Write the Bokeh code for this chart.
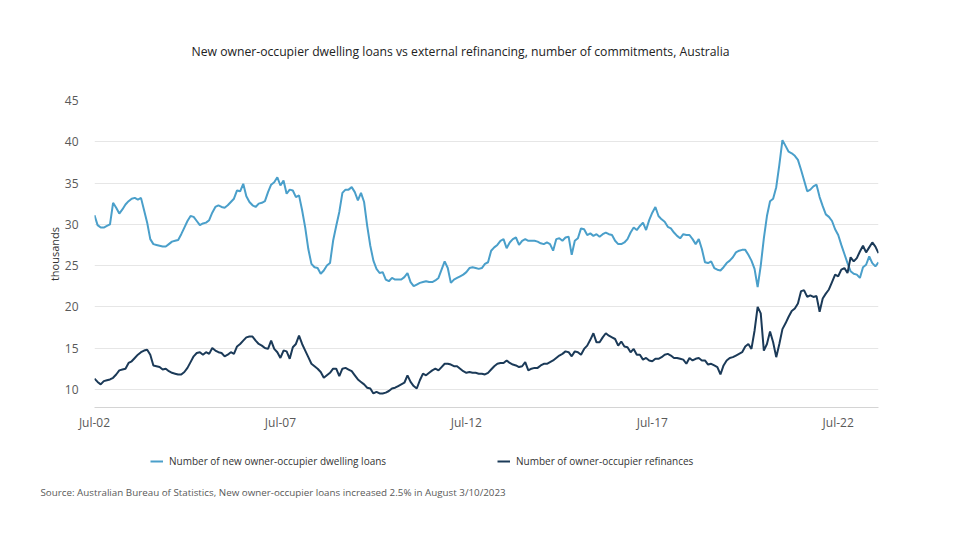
from bokeh.plotting import figure
from bokeh.layouts import column
from bokeh.models import Range1d, FixedTicker, Legend, LegendItem, ColumnDataSource, Label
from bokeh.embed import file_html
from bokeh.resources import INLINE

# Monthly data, Jul-2002 .. Aug-2023 (thousands)
new_loans = [
    31.1, 29.9, 29.6, 29.6, 29.8, 30.0, 32.6, 32.0, 31.3, 31.8, 32.4, 32.8,
    33.1, 33.2, 33.0, 33.2, 31.7, 30.2, 28.2, 27.6, 27.5, 27.4, 27.3, 27.3,
    27.6, 27.9, 28.0, 28.1, 28.8, 29.6, 30.4, 31.0, 30.9, 30.4, 29.9, 30.1,
    30.2, 30.5, 31.4, 32.1, 32.3, 32.1, 32.0, 32.3, 32.7, 33.1, 34.1, 34.0,
    34.9, 33.4, 32.7, 32.3, 32.1, 32.5, 32.6, 32.8, 33.9, 34.8, 35.1, 35.7,
    34.7, 35.3, 33.7, 34.2, 34.1, 33.3, 33.5, 31.7, 29.6, 27.0, 25.2, 24.8,
    24.7, 24.0, 24.4, 25.0, 25.3, 28.0, 29.8, 31.5, 33.8, 34.2, 34.2, 34.5,
    33.9, 32.9, 33.8, 32.7, 29.8, 27.4, 25.6, 24.6, 24.1, 24.2, 23.3, 23.1,
    23.5, 23.3, 23.3, 23.3, 23.6, 24.1, 23.0, 22.5, 22.7, 22.9, 23.0, 23.1,
    23.0, 23.0, 23.2, 23.5, 24.5, 25.5, 24.7, 22.9, 23.3, 23.5, 23.7, 23.9,
    24.2, 24.7, 24.8, 24.7, 24.6, 24.7, 25.2, 25.4, 26.8, 27.2, 27.5, 28.0,
    28.2, 27.1, 27.8, 28.2, 28.4, 27.5, 28.0, 28.2, 28.0, 28.0, 28.0, 27.9,
    27.7, 27.6, 27.8, 27.6, 26.8, 28.2, 28.3, 28.0, 28.4, 28.5, 26.3, 28.0,
    28.3, 29.5, 29.4, 28.7, 28.9, 28.6, 28.8, 28.5, 28.8, 29.0, 28.8, 28.7,
    28.0, 27.6, 27.6, 27.8, 28.2, 29.0, 29.6, 29.3, 29.8, 30.2, 29.3, 30.5,
    31.4, 32.1, 31.0, 30.6, 30.3, 29.7, 29.5, 29.0, 28.6, 28.3, 28.8, 28.7,
    28.7, 28.2, 27.6, 28.2, 27.0, 25.4, 25.3, 25.5, 24.7, 24.5, 24.4, 24.8,
    25.3, 25.6, 26.0, 26.6, 26.8, 26.9, 26.9, 26.3, 25.6, 24.6, 22.4, 25.0,
    28.3, 31.0, 32.8, 33.1, 34.5, 37.2, 40.2, 39.5, 38.8, 38.6, 38.3, 37.8,
    36.6, 35.3, 34.0, 34.2, 34.6, 34.8, 33.3, 32.2, 31.2, 30.9, 30.4, 29.4,
    28.7, 27.5, 26.4, 25.3, 24.3, 24.0, 23.9, 23.5, 24.8, 25.1, 26.1, 25.3,
    24.9, 25.4,
]

refinances = [
    11.3, 10.9, 10.6, 11.0, 11.1, 11.2, 11.4, 11.8, 12.3, 12.4, 12.5, 13.2,
    13.4, 13.8, 14.2, 14.5, 14.7, 14.8, 14.2, 12.9, 12.8, 12.7, 12.4, 12.5,
    12.2, 12.0, 11.9, 11.8, 11.8, 12.1, 12.6, 13.3, 14.0, 14.4, 14.5, 14.2,
    14.5, 14.3, 15.0, 14.7, 14.5, 14.4, 14.0, 14.2, 14.5, 14.3, 15.2, 15.5,
    15.9, 16.3, 16.4, 16.4, 15.9, 15.5, 15.3, 15.0, 14.9, 15.9, 14.9, 14.5,
    13.8, 14.7, 14.6, 13.7, 15.1, 15.5, 16.5, 15.5, 14.7, 13.9, 13.1, 12.8,
    12.5, 12.1, 11.4, 11.7, 12.0, 12.5, 12.5, 11.6, 12.5, 12.6, 12.4, 12.2,
    11.7, 11.2, 10.9, 10.6, 10.2, 10.1, 9.5, 9.7, 9.5, 9.5, 9.6, 9.8,
    10.1, 10.2, 10.4, 10.6, 10.8, 11.7, 10.9, 10.4, 10.1, 11.1, 11.9, 11.7,
    12.0, 12.3, 12.5, 12.3, 12.7, 13.1, 13.1, 13.0, 12.8, 12.8, 12.5, 12.2,
    12.0, 12.1, 12.0, 12.0, 11.9, 11.9, 11.8, 12.0, 12.4, 12.8, 13.1, 13.2,
    13.2, 13.5, 13.2, 13.0, 12.9, 12.7, 12.8, 13.3, 12.3, 12.5, 12.6, 12.6,
    12.9, 13.1, 13.1, 13.3, 13.5, 13.8, 14.1, 14.3, 14.6, 14.5, 14.0, 14.6,
    14.5, 14.2, 14.9, 15.3, 16.0, 16.8, 15.7, 15.7, 16.3, 16.8, 16.5, 16.3,
    16.1, 15.3, 15.8, 15.2, 15.1, 14.5, 14.9, 14.2, 14.2, 13.6, 13.8, 13.5,
    13.4, 13.7, 13.7, 13.9, 14.2, 14.3, 14.1, 13.8, 13.8, 13.7, 13.6, 13.1,
    13.8, 13.5, 13.7, 13.8, 13.5, 13.5, 13.0, 13.1, 12.9, 12.7, 11.8, 12.9,
    13.5, 13.8, 13.9, 14.1, 14.3, 14.5, 15.2, 15.5, 14.9, 17.1, 20.0, 19.2,
    14.7, 15.5, 17.0, 15.7, 13.9, 15.5, 17.3, 18.0, 18.8, 19.5, 19.8, 20.4,
    21.9, 22.0, 21.2, 21.4, 21.2, 21.3, 19.4, 21.0, 21.6, 22.1, 23.0, 23.9,
    23.7, 24.5, 24.7, 24.1, 26.0, 25.5, 25.9, 26.7, 27.4, 26.6, 27.2, 27.8,
    27.3, 26.5,
]

tick_months = [0, 60, 120, 180, 240]
tick_labels = ["Jul-02", "Jul-07", "Jul-12", "Jul-17", "Jul-22"]
y_ticks = [10, 15, 20, 25, 30, 35, 40, 45]

series_names = ["Number of new owner-occupier dwelling loans",
                "Number of owner-occupier refinances"]
title_text = "New owner-occupier dwelling loans vs external refinancing, number of commitments, Australia"
source_text = "Source: Australian Bureau of Statistics, New owner-occupier loans increased 2.5% in August 3/10/2023"

LIGHT = "#4a9fca"
DARK = "#1b3a58"
FONT = "Open Sans"

n = max(len(new_loans), len(refinances))
src_a = ColumnDataSource(dict(m=list(range(len(new_loans))), v=new_loans))
src_b = ColumnDataSource(dict(m=list(range(len(refinances))), v=refinances))

# ---------------- main chart ----------------
p = figure(width=951, height=440, output_backend="svg", toolbar_location=None,
           x_range=Range1d(0, n - 1), y_range=Range1d(7.8, 45),
           min_border_left=94, min_border_right=73, min_border_top=100,
           min_border_bottom=33)
p.frame_align = False
p.outline_line_color = None
p.background_fill_color = "white"
p.border_fill_color = "white"

p.title.text = title_text
p.title.align = "left"
p.title.offset = 97
p.title.standoff = 81
p.title.text_font = FONT
p.title.text_font_size = "12.2px"
p.title.text_font_style = "normal"
p.title.text_color = "#222222"

p.xgrid.grid_line_color = None
p.ygrid.grid_line_color = "#e6e6e6"
p.ygrid.grid_line_width = 1

p.xaxis.ticker = FixedTicker(ticks=tick_months)
p.xaxis.major_label_overrides = {m: l for m, l in zip(tick_months, tick_labels)}
p.xaxis.axis_line_color = "#d4d4d4"
p.xaxis.axis_line_width = 1
p.xaxis.major_tick_line_color = None
p.xaxis.minor_tick_line_color = None
p.xaxis.major_label_standoff = 0
p.xaxis.major_label_text_font = FONT
p.xaxis.major_label_text_font_size = "12px"
p.xaxis.major_label_text_color = "#595959"

p.yaxis.ticker = FixedTicker(ticks=y_ticks)
p.yaxis.axis_line_color = None
p.yaxis.major_tick_line_color = None
p.yaxis.minor_tick_line_color = None
p.yaxis.major_label_standoff = 10
p.yaxis.major_label_text_font = FONT
p.yaxis.major_label_text_font_size = "12px"
p.yaxis.major_label_text_color = "#595959"
p.yaxis.axis_label = "thousands"
p.yaxis.axis_label_text_font = FONT
p.yaxis.axis_label_text_font_size = "11px"
p.yaxis.axis_label_text_font_style = "normal"
p.yaxis.axis_label_text_color = "#333333"
p.yaxis.axis_label_standoff = 0

p.line("m", "v", source=src_a, line_color=LIGHT, line_width=2)
p.line("m", "v", source=src_b, line_color=DARK, line_width=2)

# ---------------- legend + source strip ----------------
f = figure(width=951, height=80, output_backend="svg", toolbar_location=None,
           x_range=Range1d(0, n - 1), y_range=Range1d(1000, 1010),
           x_axis_location=None, y_axis_location=None,
           min_border_left=0, min_border_right=0, min_border_top=0,
           min_border_bottom=0)
f.frame_align = False
f.outline_line_color = None
f.xgrid.grid_line_color = None
f.ygrid.grid_line_color = None
f.background_fill_color = "white"
f.border_fill_color = "white"

# same series, drawn out of view: they only feed the legend swatches
g1 = f.line("m", "v", source=src_a, line_color=LIGHT, line_width=2)
g2 = f.line("m", "v", source=src_b, line_color=DARK, line_width=2)

def make_legend(name, r, x):
    return Legend(items=[LegendItem(label=name, renderers=[r])], location=(x, 52),
                  orientation="horizontal", padding=0, margin=0,
                  border_line_color=None, background_fill_alpha=0,
                  glyph_width=13, glyph_height=14, label_height=14,
                  label_standoff=6, label_text_font=FONT,
                  label_text_font_size="10px", label_text_color="#333333")

f.add_layout(make_legend(series_names[0], g1, 150))
f.add_layout(make_legend(series_names[1], g2, 497))

f.add_layout(Label(x=40, y=28, x_units="screen", y_units="screen",
                   text=source_text, text_align="left", text_baseline="middle",
                   text_font=FONT, text_font_size="9.8px", text_color="#595959"))

layout = column(p, f, spacing=0)
open("out.html", "w").write(file_html(layout, INLINE))
